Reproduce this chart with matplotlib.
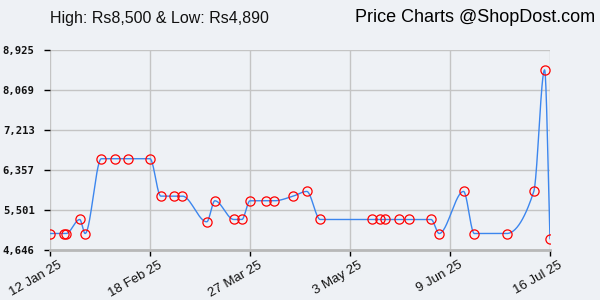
import numpy as np
import matplotlib
matplotlib.use("Agg")
import matplotlib.pyplot as plt
import matplotlib.dates as mdates
import matplotlib.transforms as mtransforms
from datetime import date

# price history
dates = [
    "2025-01-12", "2025-01-17", "2025-01-18", "2025-01-23", "2025-01-25",
    "2025-01-31", "2025-02-05", "2025-02-10", "2025-02-18", "2025-02-22",
    "2025-02-27", "2025-03-02", "2025-03-11", "2025-03-14", "2025-03-21",
    "2025-03-24", "2025-03-27", "2025-04-02", "2025-04-05", "2025-04-12",
    "2025-04-17", "2025-04-22", "2025-05-11", "2025-05-14", "2025-05-16",
    "2025-05-21", "2025-05-25", "2025-06-02", "2025-06-05", "2025-06-14",
    "2025-06-18", "2025-06-30", "2025-07-10", "2025-07-14", "2025-07-16",
]
prices = [
    4999, 4999, 4999, 5299, 4999,
    6599, 6599, 6599, 6599, 5799,
    5799, 5799, 5249, 5699, 5299,
    5299, 5699, 5699, 5699, 5799,
    5899, 5299, 5299, 5299, 5299,
    5299, 5299, 5299, 4999, 5899,
    4999, 4999, 5899, 8500, 4890,
]
tick_dates = ["2025-01-12", "2025-02-18", "2025-03-27", "2025-05-03", "2025-06-09", "2025-07-16"]
tick_labels = ["12 Jan 25", "18 Feb 25", "27 Mar 25", "3 May 25", "9 Jun 25", "16 Jul 25"]
y_ticks = [4646, 5501, 6357, 7213, 8069, 8925]


def monotone_curve(x, y, n=30):
    # Fritsch-Carlson monotone cubic, just for the smooth line look
    x = np.asarray(x, float)
    y = np.asarray(y, float)
    h = np.diff(x)
    d = np.diff(y) / h
    m = np.zeros_like(y)
    m[0], m[-1] = d[0], d[-1]
    for i in range(1, len(y) - 1):
        if d[i - 1] * d[i] > 0:
            w1 = 2 * h[i] + h[i - 1]
            w2 = h[i] + 2 * h[i - 1]
            m[i] = (w1 + w2) / (w1 / d[i - 1] + w2 / d[i])
    xs, ys = [], []
    for i in range(len(h)):
        t = np.linspace(0, 1, n)
        h00 = 2 * t**3 - 3 * t**2 + 1
        h10 = t**3 - 2 * t**2 + t
        h01 = -2 * t**3 + 3 * t**2
        h11 = t**3 - t**2
        xs.append(x[i] + t * h[i])
        ys.append(h00 * y[i] + h10 * h[i] * m[i] + h01 * y[i + 1] + h11 * h[i] * m[i + 1])
    return np.concatenate(xs), np.concatenate(ys)


x = mdates.date2num([date.fromisoformat(d) for d in dates])
xt = mdates.date2num([date.fromisoformat(d) for d in tick_dates])
cx, cy = monotone_curve(x, prices)

bg = "#eef1f5"
fig = plt.figure(figsize=(6, 3), dpi=100, facecolor=bg)
ax = fig.add_axes([50 / 600, 50 / 300, 500 / 600, 200 / 300], facecolor=bg)

ax.plot(cx, cy, color="#3c86ee", linewidth=1.0, zorder=3)
ax.plot(x, prices, linestyle="none", marker="o", markersize=6.6,
        markerfacecolor="none", markeredgecolor="#ff0000", markeredgewidth=0.9, zorder=4)

ax.set_xlim(xt[0], xt[-1])
ax.set_ylim(y_ticks[0], y_ticks[-1])
ax.set_xticks(xt)
ax.set_xticklabels([])
# rotated date labels, hung just right of each tick like the original
lbl_trans = ax.get_xaxis_transform() + mtransforms.ScaledTranslation(8 / 100, -9 / 100, fig.dpi_scale_trans)
for xv, lab in zip(xt, tick_labels):
    ax.text(xv, 0, lab, transform=lbl_trans, rotation=30, rotation_mode="anchor",
            ha="right", va="top", fontsize=9.5, family="Liberation Sans", color="#111111")

ax.set_yticks(y_ticks)
ax.set_yticklabels([f"{v:,}" for v in y_ticks], family="DejaVu Sans Mono",
                   fontweight="bold", fontsize=7.6, color="#111111")
ax.tick_params(axis="y", length=4, width=1, color="black", pad=7)
ax.tick_params(axis="x", length=4, width=1, color="black", pad=3)

ax.grid(True, color="#c4c4c4", linewidth=1.0)
ax.set_axisbelow(True)
for s in ["top", "right", "left"]:
    ax.spines[s].set_visible(False)
ax.spines["bottom"].set_color("#b8b8b8")
ax.spines["bottom"].set_linewidth(2)

fig.text(50 / 600, 1 - 18 / 300, "High: Rs8,500 & Low: Rs4,890", ha="left", va="center",
         fontsize=11.5, family="Liberation Sans", color="#111111")
fig.text(595 / 600, 1 - 18 / 300, "Price Charts @ShopDost.com", ha="right", va="center",
         fontsize=13, family="Liberation Sans", color="#000000")

fig.savefig("out.png", dpi=100, facecolor=bg)
